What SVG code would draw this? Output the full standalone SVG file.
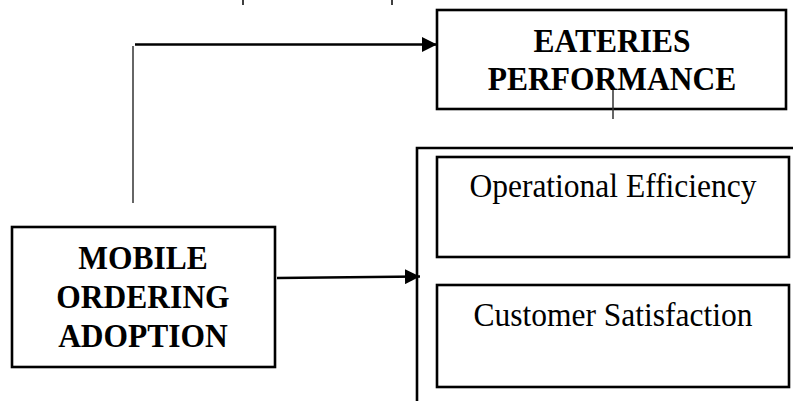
<svg xmlns="http://www.w3.org/2000/svg" width="793" height="401" viewBox="0 0 793 401">
<style>
.box{fill:#fff;stroke:#000;stroke-width:2.6}
.hb{font-family:"Liberation Serif","Times New Roman",serif;font-weight:bold;font-size:31.5px;text-anchor:middle;fill:#000}
.lb{font-family:"Liberation Serif","Times New Roman",serif;font-size:31.5px;text-anchor:middle;fill:#000}
.ln{stroke:#000;stroke-width:2.6;fill:none}
.thin{stroke:#333;stroke-width:1.5;fill:none}
</style>
<defs>
<marker id="ah" viewBox="0 0 10 10" refX="10" refY="5" markerWidth="15" markerHeight="15" markerUnits="userSpaceOnUse" orient="auto">
<path d="M0,0 L10,5 L0,10 Z" fill="#000"/>
</marker>
</defs>
<rect width="793" height="401" fill="#fff"/>
<g id="marks">
<line x1="243" y1="0" x2="243" y2="5" stroke="#000" stroke-width="1.5"/>
<line x1="392" y1="0" x2="392" y2="5" stroke="#000" stroke-width="1.5"/>
</g>
<g id="eateries">
<rect class="box" x="437" y="10" width="349" height="99"/>
<text class="hb" transform="translate(612,52) scale(1,1.1)">EATERIES</text>
<text class="hb" transform="translate(612,90) scale(1,1.1)">PERFORMANCE</text>
</g>
<g id="mobile">
<rect class="box" x="12" y="227" width="263" height="140"/>
<text class="hb" transform="translate(143,269) scale(1,1.1)">MOBILE</text>
<text class="hb" transform="translate(143,308) scale(1,1.1)">ORDERING</text>
<text class="hb" transform="translate(143,347) scale(1,1.1)">ADOPTION</text>
</g>
<g id="group-bracket">
<path class="ln" d="M417,401 L417,148 L793,148"/>
</g>
<g id="operational">
<rect class="box" x="437" y="157" width="352" height="100"/>
<text class="lb" transform="translate(613,197) scale(1,1.1)">Operational Efficiency</text>
</g>
<g id="customer">
<rect class="box" x="437" y="285" width="352" height="102"/>
<text class="lb" transform="translate(613,326) scale(1,1.1)">Customer Satisfaction</text>
</g>
<g id="connectors">
<line class="thin" x1="133" y1="203" x2="133" y2="46"/>
<line class="ln" x1="135" y1="44.5" x2="437" y2="44.5" marker-end="url(#ah)"/>
<line class="ln" x1="277" y1="278" x2="420" y2="276.5" marker-end="url(#ah)"/>
<line class="thin" x1="613" y1="90" x2="613" y2="119"/>
</g>
</svg>
